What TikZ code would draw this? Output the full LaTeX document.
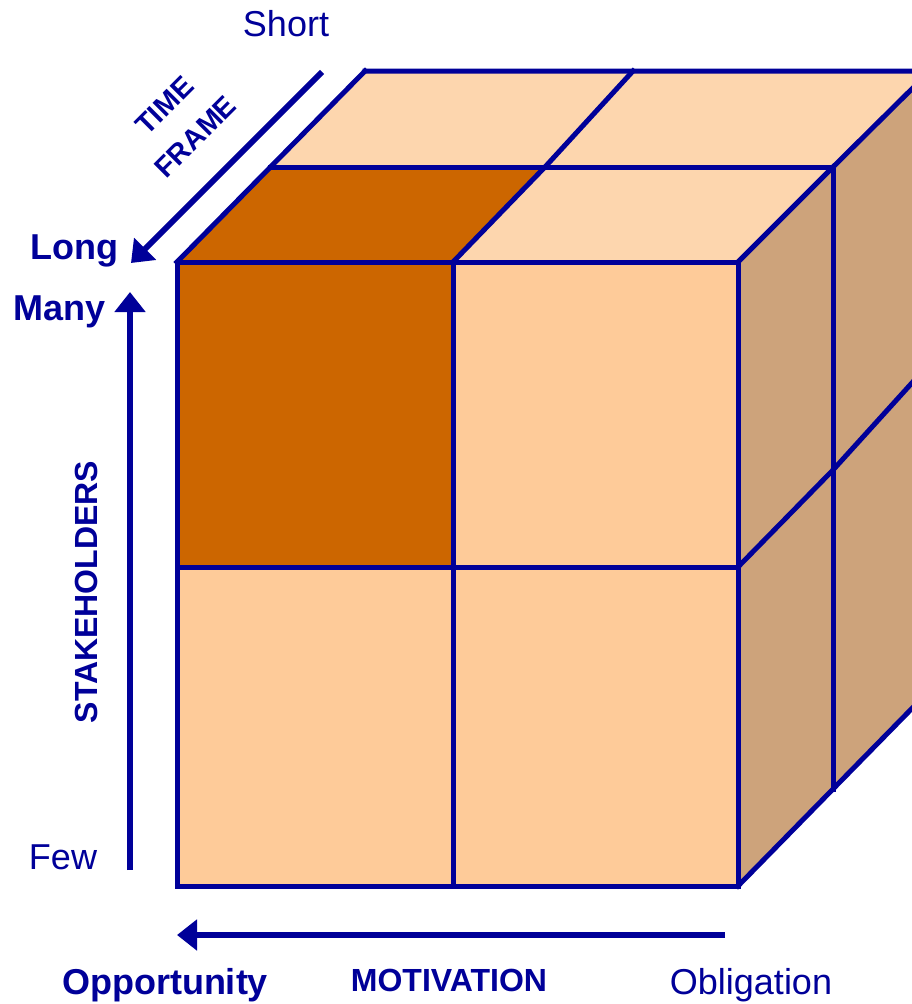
\documentclass[tikz,border=0pt]{standalone}
\usepackage{fontspec}
\setmainfont{Liberation Sans}
\usetikzlibrary{arrows.meta}
\definecolor{navy}{RGB}{0,0,153}
\definecolor{topc}{RGB}{253,214,174}
\definecolor{frontc}{RGB}{254,203,153}
\definecolor{sidec}{RGB}{205,163,123}
\definecolor{darkc}{RGB}{204,102,0}
\begin{document}
\begin{tikzpicture}[x=1pt,y=-1pt,
  edge/.style={draw=navy,line width=5pt,line join=miter,line cap=rect},
  axis/.style={draw=navy,line width=6pt,-{Triangle[length=20pt,width=30pt]}},
  lbl/.style={text=navy,inner sep=0pt,font=\fontsize{36}{40}\selectfont},
  blbl/.style={text=navy,inner sep=0pt,font=\bfseries\fontsize{36}{40}\selectfont},
  mlbl/.style={text=navy,inner sep=0pt,font=\bfseries\fontsize{32}{36}\selectfont},
  slbl/.style={text=navy,inner sep=0pt,align=center,font=\bfseries\fontsize{28.5}{44}\selectfont}
]
\useasboundingbox (0,0) rectangle (912,1004);
% cube corners
\coordinate (A) at (177,262);
\coordinate (B) at (453,262);
\coordinate (C) at (738,262);
\coordinate (D) at (177,567);
\coordinate (E) at (453,567);
\coordinate (F) at (738,567);
\coordinate (G) at (177,886);
\coordinate (H) at (453,886);
\coordinate (I) at (738,886);
\coordinate (TM0) at (270,167);
\coordinate (TM1) at (545,167);
\coordinate (TM2) at (833,167);
\coordinate (TB0) at (365,71);
\coordinate (TB1) at (633,71);
\coordinate (TB2) at (930,71);
\coordinate (RM1) at (833,470);
\coordinate (RM2) at (930,363);
\coordinate (RB1) at (833,789);
\coordinate (RB2) at (930,690);
\begin{scope}
\clip (0,0) rectangle (912,1004);
% faces
\fill[topc] (A) -- (C) -- (TB2) -- (TB0) -- cycle;
\fill[darkc] (A) -- (B) -- (TM1) -- (TM0) -- cycle;
\fill[sidec] (C) -- (TB2) -- (RB2) -- (I) -- cycle;
\fill[frontc] (A) rectangle (I);
\fill[darkc] (A) rectangle (E);
% edges
\draw[edge] (A) rectangle (I);
\draw[edge] (B) -- (H);
\draw[edge] (D) -- (F);
\draw[edge] (TB0) -- (TB2) -- (RB2) -- (I);
\draw[edge] (A) -- (TB0);
\draw[edge] (B) -- (TM1) -- (TB1);
\draw[edge] (C) -- (TM2) -- (TB2);
\draw[edge] (TM0) -- (TM2) -- (RB1);
\draw[edge] (F) -- (RM1) -- (RM2);
\end{scope}
% axis arrows
\coordinate (tf1) at (322,72);
\coordinate (tf2) at (131,263);
\coordinate (sh1) at (130,870);
\coordinate (sh2) at (130,292);
\coordinate (mo1) at (725,935);
\coordinate (mo2) at (177,935);
\draw[axis] (tf1) -- (tf2);
\draw[axis] (sh1) -- (sh2);
\draw[axis] (mo1) -- (mo2);
% labels
\node[lbl] (short) at (286,24) {Short};
\node[blbl] (long) at (74,251) {Long};
\node[blbl] (many) at (60,312) {Many};
\node[lbl] (few) at (63,857) {Few};
\node[mlbl,rotate=90] (stake) at (86,592) {STAKEHOLDERS};
\node[blbl] (opp) at (165,985) {Opportunity};
\node[mlbl] (mot) at (449,980) {MOTIVATION};
\node[lbl] (obl) at (751,985) {Obligation};
\node[slbl,rotate=45] (timeframe) at (180,121) {TIME\\FRAME};
\end{tikzpicture}
\end{document}
